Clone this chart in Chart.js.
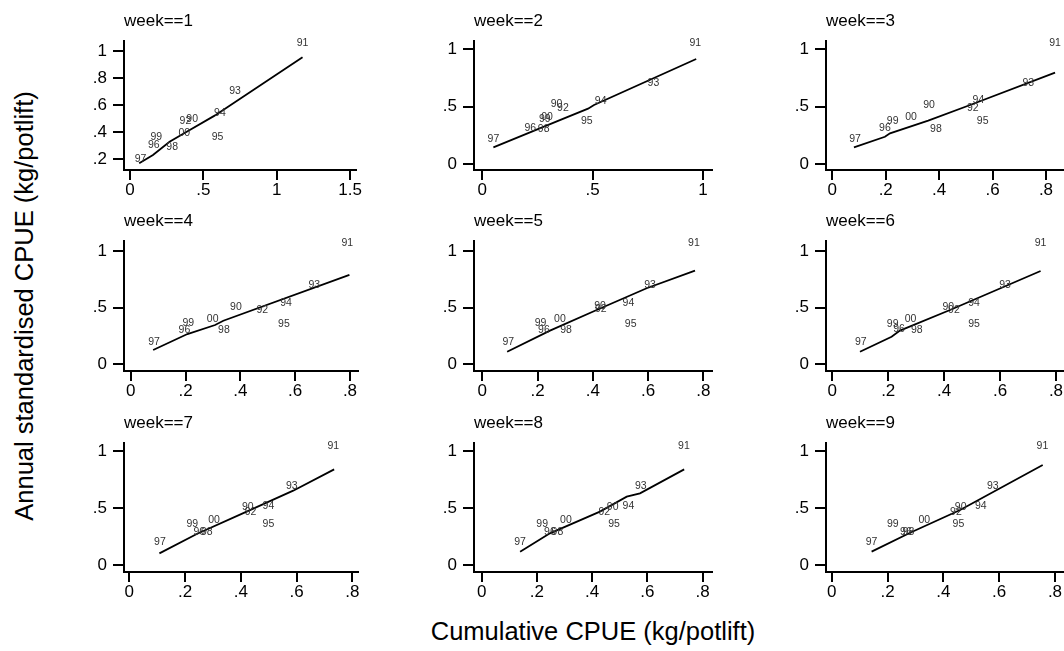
<!DOCTYPE html>
<html>
<head>
<meta charset="utf-8">
<script src="https://cdn.jsdelivr.net/npm/chart.js@4"></script>
<style>
  body { margin: 0; background: #fff; }
  #wrap { position: relative; width: 1064px; height: 651px; overflow: hidden; font-family: "Liberation Sans", Arial, sans-serif; }
  #wrap canvas { position: absolute; }
  .axis-title { position: absolute; font-size: 25.5px; line-height: 1; white-space: nowrap; color: #000; }
</style>
</head>
<body>
<div id="wrap">
  <div class="axis-title" style="left:25px;top:306px;transform:translate(-50%,-50%) rotate(-90deg);">Annual standardised CPUE (kg/potlift)</div>
  <div class="axis-title" style="left:593px;top:632px;transform:translate(-50%,-50%);">Cumulative CPUE (kg/potlift)</div>
</div>
<script>
// year labels, order 1990 .. 2000
const years = ['90', '91', '92', '93', '94', '95', '96', '97', '98', '99', '00'];

// cumulative CPUE (x) and annual standardised CPUE (y) per week
const cumW1 = [0.424, 1.176, 0.378, 0.716, 0.613, 0.597, 0.162, 0.072, 0.288, 0.180, 0.370];
const annW1 = [0.499, 1.064, 0.484, 0.707, 0.539, 0.366, 0.304, 0.200, 0.291, 0.366, 0.395];
const cumW2 = [0.336, 0.965, 0.365, 0.775, 0.536, 0.473, 0.217, 0.050, 0.278, 0.283, 0.293];
const annW2 = [0.522, 1.055, 0.484, 0.702, 0.550, 0.377, 0.316, 0.215, 0.302, 0.389, 0.411];
const cumW3 = [0.362, 0.834, 0.526, 0.734, 0.547, 0.563, 0.197, 0.085, 0.388, 0.226, 0.295];
const annW3 = [0.513, 1.050, 0.484, 0.702, 0.557, 0.377, 0.310, 0.215, 0.304, 0.377, 0.411];
const cumW4 = [0.384, 0.790, 0.480, 0.670, 0.567, 0.559, 0.196, 0.085, 0.340, 0.210, 0.299];
const annW4 = [0.503, 1.071, 0.479, 0.701, 0.539, 0.355, 0.302, 0.193, 0.302, 0.361, 0.397];
const cumW5 = [0.426, 0.766, 0.429, 0.607, 0.529, 0.537, 0.223, 0.094, 0.303, 0.211, 0.281];
const annW5 = [0.515, 1.071, 0.485, 0.701, 0.539, 0.355, 0.302, 0.193, 0.302, 0.361, 0.397];
const cumW6 = [0.415, 0.745, 0.435, 0.618, 0.507, 0.507, 0.239, 0.102, 0.302, 0.216, 0.280];
const annW6 = [0.508, 1.071, 0.479, 0.701, 0.539, 0.355, 0.308, 0.193, 0.302, 0.355, 0.397];
const cumW7 = [0.425, 0.732, 0.435, 0.583, 0.499, 0.499, 0.251, 0.110, 0.278, 0.226, 0.304];
const annW7 = [0.512, 1.044, 0.468, 0.693, 0.518, 0.357, 0.292, 0.199, 0.292, 0.360, 0.395];
const cumW8 = [0.474, 0.732, 0.444, 0.576, 0.531, 0.479, 0.247, 0.139, 0.274, 0.219, 0.305];
const annW8 = [0.506, 1.044, 0.468, 0.693, 0.518, 0.357, 0.292, 0.199, 0.292, 0.360, 0.395];
const cumW9 = [0.462, 0.755, 0.445, 0.577, 0.534, 0.454, 0.266, 0.143, 0.275, 0.219, 0.332];
const annW9 = [0.506, 1.044, 0.468, 0.693, 0.518, 0.357, 0.292, 0.199, 0.292, 0.360, 0.395];

// smoothed fit line vertices per week
const fitXW1 = [0.063, 0.157, 0.270, 0.387, 0.574, 1.176];
const fitYW1 = [0.168, 0.230, 0.328, 0.403, 0.520, 0.955];
const fitXW2 = [0.050, 0.354, 0.479, 0.506, 0.969];
const fitYW2 = [0.145, 0.383, 0.481, 0.513, 0.913];
const fitXW3 = [0.081, 0.197, 0.216, 0.359, 0.516, 0.834];
const fitYW3 = [0.145, 0.237, 0.267, 0.377, 0.513, 0.794];
const fitXW4 = [0.082, 0.207, 0.308, 0.338, 0.798];
const fitYW4 = [0.124, 0.266, 0.346, 0.384, 0.790];
const fitXW5 = [0.090, 0.245, 0.414, 0.595, 0.770];
const fitYW5 = [0.109, 0.296, 0.479, 0.672, 0.828];
const fitXW6 = [0.099, 0.212, 0.242, 0.421, 0.745];
const fitYW6 = [0.109, 0.242, 0.296, 0.479, 0.825];
const fitXW7 = [0.108, 0.242, 0.421, 0.588, 0.735];
const fitYW7 = [0.102, 0.272, 0.468, 0.652, 0.839];
const fitXW8 = [0.139, 0.247, 0.428, 0.525, 0.573, 0.733];
const fitYW8 = [0.117, 0.278, 0.468, 0.599, 0.629, 0.839];
const fitXW9 = [0.143, 0.281, 0.460, 0.756];
const fitYW9 = [0.117, 0.283, 0.482, 0.877];

// tick values
const xTicksW1 = [0, 0.5, 1, 1.5];
const xTicksW2 = [0, 0.5, 1];
const xTicksRest = [0, 0.2, 0.4, 0.6, 0.8];
const yTicksW1 = [0.2, 0.4, 0.6, 0.8, 1];
const yTicksRest = [0, 0.5, 1];

const cumList = [cumW1, cumW2, cumW3, cumW4, cumW5, cumW6, cumW7, cumW8, cumW9];
const annList = [annW1, annW2, annW3, annW4, annW5, annW6, annW7, annW8, annW9];
const fitXList = [fitXW1, fitXW2, fitXW3, fitXW4, fitXW5, fitXW6, fitXW7, fitXW8, fitXW9];
const fitYList = [fitYW1, fitYW2, fitYW3, fitYW4, fitYW5, fitYW6, fitYW7, fitYW8, fitYW9];

// axis ranges of each panel
const xMins = [-0.0405, -0.0378, -0.0236, -0.0244, -0.030, -0.0225, -0.019, -0.0279, -0.0204];
const xMaxs = [1.5405, 1.0406, 0.8637, 0.8293, 0.8315, 0.8251, 0.8205, 0.8337, 0.8287];
const yMins = [0.1181, -0.0522, -0.0522, -0.0621, -0.0621, -0.0621, -0.0614, -0.0614, -0.0614];
const yMaxs = [1.0765, 1.0696, 1.0696, 1.0914, 1.0914, 1.0914, 1.0702, 1.0702, 1.0702];

// plot-region edges on the page
const colLeft = [124, 474, 826];
const colRight = [358, 712, 1063];
const rowTop = [41, 241, 443];
const rowBottom = [170, 371, 572];

const FONT = '"Liberation Sans", Arial, sans-serif';
Chart.defaults.font.family = FONT;
Chart.defaults.color = '#000';

function fmt(v) {
    if (v === 0) return '0';
    return String(+v.toFixed(2)).replace(/^0\./, '.');
}

// draws the year labels at each point plus the panel heading
const yearLabels = {
    id: 'yearLabels',
    afterDatasetsDraw(chart, args, opts) {
        const ctx = chart.ctx;
        const meta = chart.getDatasetMeta(1);
        ctx.save();
        ctx.font = '10.5px ' + FONT;
        ctx.fillStyle = '#333';
        ctx.textAlign = 'center';
        ctx.textBaseline = 'middle';
        meta.data.forEach((pt, i) => {
            ctx.fillText(years[i], pt.x, pt.y);
        });
        ctx.font = '17px ' + FONT;
        ctx.fillStyle = '#000';
        ctx.textAlign = 'left';
        ctx.textBaseline = 'alphabetic';
        ctx.fillText(opts.title, chart.chartArea.left, chart.chartArea.top - 15);
        ctx.restore();
    }
};

const wrap = document.getElementById('wrap');
const PAD_TOP = 36, PAD_RIGHT = 4, Y_W = 70, X_H = 34;

for (let p = 0; p < 9; p++) {
    const col = p % 3, row = Math.floor(p / 3);
    const w = colRight[col] - colLeft[col] + Y_W + PAD_RIGHT;
    const h = rowBottom[row] - rowTop[row] + PAD_TOP + X_H;
    const canvas = document.createElement('canvas');
    canvas.width = w;
    canvas.height = h;
    canvas.style.left = (colLeft[col] - Y_W) + 'px';
    canvas.style.top = (rowTop[row] - PAD_TOP) + 'px';
    canvas.style.width = w + 'px';
    canvas.style.height = h + 'px';
    wrap.appendChild(canvas);

    const xTicks = p === 0 ? xTicksW1 : (p === 1 ? xTicksW2 : xTicksRest);
    const yTicks = p === 0 ? yTicksW1 : yTicksRest;

    const fitPts = fitXList[p].map((x, i) => ({ x: x, y: fitYList[p][i] }));
    const pts = cumList[p].map((x, i) => ({ x: x, y: annList[p][i] }));

    new Chart(canvas.getContext('2d'), {
        type: 'scatter',
        data: {
            datasets: [
                {
                    type: 'line',
                    data: fitPts,
                    borderColor: '#000',
                    borderWidth: 1.8,
                    pointRadius: 0,
                    fill: false,
                    tension: 0
                },
                {
                    data: pts,
                    pointRadius: 0,
                    pointHoverRadius: 0
                }
            ]
        },
        options: {
            responsive: false,
            animation: false,
            devicePixelRatio: 1,
            layout: { padding: { top: PAD_TOP, right: PAD_RIGHT, left: 0, bottom: 0 } },
            plugins: {
                legend: { display: false },
                tooltip: { enabled: false },
                yearLabels: { title: 'week==' + (p + 1) }
            },
            scales: {
                x: {
                    type: 'linear',
                    min: xMins[p],
                    max: xMaxs[p],
                    bounds: 'data',
                    afterBuildTicks: s => { s.ticks = xTicks.map(v => ({ value: v })); },
                    afterFit: s => { s.height = X_H; },
                    grid: { drawOnChartArea: false, drawTicks: true, tickLength: 10, color: '#000', lineWidth: 2 },
                    border: { display: true, color: '#000', width: 2 },
                    ticks: {
                        autoSkip: false, maxRotation: 0, minRotation: 0, padding: 0,
                        font: { size: 17 }, color: '#000',
                        callback: v => fmt(v)
                    }
                },
                y: {
                    type: 'linear',
                    min: yMins[p],
                    max: yMaxs[p],
                    bounds: 'data',
                    afterBuildTicks: s => { s.ticks = yTicks.map(v => ({ value: v })); },
                    afterFit: s => { s.width = Y_W; },
                    grid: { drawOnChartArea: false, drawTicks: true, tickLength: 11, color: '#000', lineWidth: 2 },
                    border: { display: true, color: '#000', width: 2 },
                    ticks: {
                        autoSkip: false, padding: 6,
                        font: { size: 17 }, color: '#000',
                        callback: v => fmt(v)
                    }
                }
            }
        },
        plugins: [yearLabels]
    });
}
</script>
</body>
</html>
